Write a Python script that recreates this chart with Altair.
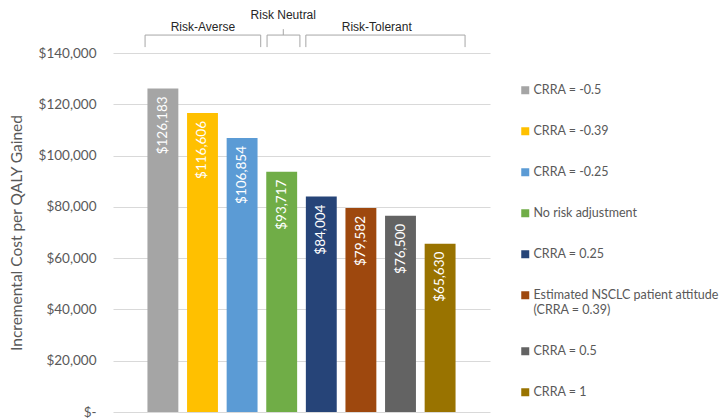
import altair as alt
import pandas as pd

# ---- data ----
scenarios = [
    "CRRA = -0.5",
    "CRRA = -0.39",
    "CRRA = -0.25",
    "No risk adjustment",
    "CRRA = 0.25",
    "Estimated NSCLC patient attitude (CRRA = 0.39)",
    "CRRA = 0.5",
    "CRRA = 1",
]
icer = [126183, 116606, 106854, 93717, 84004, 79582, 76500, 65630]
bar_colors = ["#A5A5A5", "#FFC000", "#5B9BD5", "#70AD47",
              "#264478", "#9E480E", "#636363", "#997300"]

groups = ["Risk-Averse", "Risk Neutral", "Risk-Tolerant"]
group_start = [-0.45, 2.63, 3.61]
group_end = [2.47, 3.46, 7.63]
group_mid = [1.01, 3.04, 5.4]
group_label_y = [150000, 154800, 150000]
bracket_top = 147000
bracket_bottom = 142300
neutral_tick_top = 149300

y_ticks = [0, 20000, 40000, 60000, 80000, 100000, 120000, 140000]

bars_df = pd.DataFrame({"scenario": scenarios, "icer": icer, "idx": list(range(len(scenarios)))})
grp_df = pd.DataFrame({"group": groups, "start": group_start, "end": group_end,
                       "mid": group_mid, "ly": group_label_y})

FONT = "Lato"
GREY = "#595959"

xscale = alt.Scale(domain=[-1.26, 8.26], nice=False, zero=False)
yscale = alt.Scale(domain=[0, 140000], nice=False)

bars = alt.Chart(bars_df).transform_calculate(
    x1="datum.idx - 0.39", x2="datum.idx + 0.39"
).mark_bar().encode(
    x=alt.X("x1:Q", scale=xscale, axis=None),
    x2="x2:Q",
    y=alt.Y("icer:Q", scale=yscale,
            axis=alt.Axis(values=y_ticks, title="Incremental Cost per QALY Gained",
                          labelExpr="datum.value == 0 ? '$-' : '$' + format(datum.value, ',')",
                          domain=False, ticks=False, grid=True, gridColor="#D9D9D9",
                          labelFont=FONT, labelFontSize=13.5, labelColor=GREY, labelPadding=17,
                          titleFont=FONT, titleFontSize=15.5, titleColor=GREY,
                          titleFontWeight="normal", titlePadding=14)),
    y2=alt.datum(0),
    color=alt.Color("scenario:N", sort=scenarios,
                    scale=alt.Scale(domain=scenarios, range=bar_colors),
                    legend=alt.Legend(title=None, orient="none", legendX=406, legendY=31,
                                      symbolType="square", symbolSize=64, symbolStrokeWidth=0,
                                      labelFont=FONT, labelFontSize=12.5, labelColor=GREY,
                                      labelLimit=300, rowPadding=28, padding=0, labelOffset=2,
                                      labelExpr="datum.label == 'Estimated NSCLC patient attitude (CRRA = 0.39)' ? ['Estimated NSCLC patient attitude', '(CRRA = 0.39)'] : datum.label")),
)

bar_text = alt.Chart(bars_df).transform_calculate(
    txt="'$' + format(datum.icer, ',')"
).mark_text(angle=270, align="right", baseline="middle", dx=-8,
            font=FONT, fontSize=13.5, color="#FFFFFF").encode(
    x=alt.X("idx:Q", scale=xscale),
    y=alt.Y("icer:Q", scale=yscale),
    text="txt:N",
)

bracket_h = alt.Chart(grp_df).mark_rule(color="#A6A6A6", strokeWidth=1).encode(
    x=alt.X("start:Q", scale=xscale), x2="end:Q",
    y=alt.datum(bracket_top, scale=yscale),
)
bracket_l = alt.Chart(grp_df).mark_rule(color="#A6A6A6", strokeWidth=1).encode(
    x=alt.X("start:Q", scale=xscale),
    y=alt.datum(bracket_top, scale=yscale), y2=alt.datum(bracket_bottom),
)
bracket_r = alt.Chart(grp_df).mark_rule(color="#A6A6A6", strokeWidth=1).encode(
    x=alt.X("end:Q", scale=xscale),
    y=alt.datum(bracket_top, scale=yscale), y2=alt.datum(bracket_bottom),
)
neutral_tick = alt.Chart(grp_df).transform_filter(
    "datum.group == 'Risk Neutral'"
).mark_rule(color="#A6A6A6", strokeWidth=1).encode(
    x=alt.X("mid:Q", scale=xscale),
    y=alt.datum(neutral_tick_top, scale=yscale), y2=alt.datum(bracket_top),
)
group_text = alt.Chart(grp_df).mark_text(font="Liberation Sans", fontSize=12,
                                         color="#262626", baseline="middle").encode(
    x=alt.X("mid:Q", scale=xscale),
    y=alt.Y("ly:Q", scale=yscale),
    text="group:N",
)

chart = alt.layer(bars, bar_text, bracket_h, bracket_l, bracket_r, neutral_tick, group_text).properties(
    width=377, height=359,
    autosize=alt.AutoSizeParams(type="none"),
    padding={"left": 105, "top": 45, "right": 229, "bottom": 8},
).configure_view(stroke=None)

chart.save("out.html", embed_options={"renderer": "svg", "actions": False})
